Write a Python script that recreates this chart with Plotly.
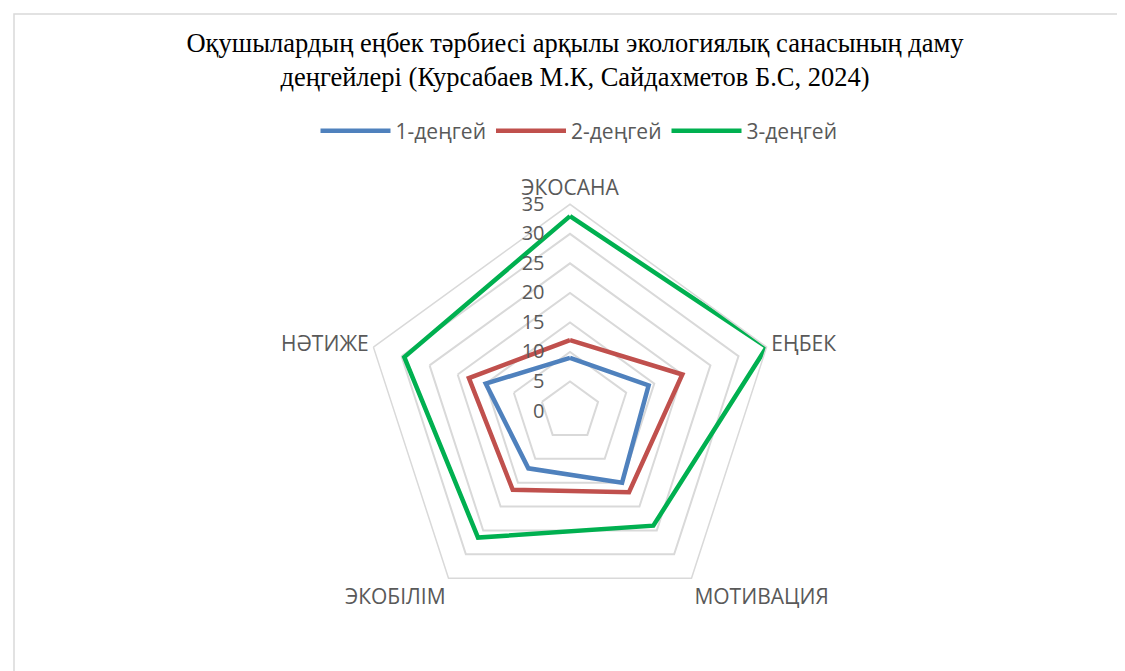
import plotly.graph_objects as go

categories = ["ЭКОСАНА", "ЕҢБЕК", "МОТИВАЦИЯ", "ЭКОБІЛІМ", "НӘТИЖЕ"]
series_names = ["1-деңгей", "2-деңгей", "3-деңгей"]
level1 = [9, 14, 15, 12, 15]
level2 = [12, 20, 17, 16.5, 18]
level3 = [33, 35, 24, 26.5, 29.5]
radial_ticks = [0, 5, 10, 15, 20, 25, 30, 35]
colors = ["#4F81BD", "#C0504D", "#00B050"]
title_text = ("Оқушылардың еңбек тәрбиесі арқылы экологиялық санасының даму<br>"
              "деңгейлері (Курсабаев М.К, Сайдахметов Б.С, 2024)")

W, H = 1125, 671
cx, cy, R = 562, 403, 206.7

fig = go.Figure()
for name, vals, col in zip(series_names, [level1, level2, level3], colors):
    fig.add_trace(go.Scatterpolar(
        r=vals + vals[:1], theta=categories + categories[:1],
        mode="lines", name=name,
        line=dict(color=col, width=4.5),
    ))

fig.update_layout(
    width=W, height=H,
    margin=dict(l=0, r=0, t=0, b=0),
    paper_bgcolor="white", plot_bgcolor="white",
    font=dict(family="Open Sans, Noto Sans, sans-serif", color="#595959", size=20),
    title=dict(text=title_text, x=567 / W, xanchor="center", y=1 - 44 / H, yanchor="middle",
               font=dict(family="Liberation Serif, Times New Roman, serif", size=26.5, color="#000000")),
    legend=dict(orientation="h", x=571 / W, xanchor="center", y=1 - 123 / H, yanchor="middle",
                font=dict(size=21, color="#595959"), itemwidth=70, bgcolor="rgba(0,0,0,0)"),
    polar=dict(
        domain=dict(x=[(cx - R) / W, (cx + R) / W], y=[(H - cy - R) / H, (H - cy + R) / H]),
        gridshape="linear",
        bgcolor="white",
        angularaxis=dict(rotation=90, direction="clockwise", showgrid=False, showline=True,
                         linecolor="#D9D9D9", linewidth=1.5, ticks="",
                         tickfont=dict(size=21, color="#595959")),
        radialaxis=dict(range=[0, 35], tickvals=radial_ticks, angle=90, tickangle=90,
                        side="counterclockwise",
                        showline=False, showgrid=True, gridcolor="#D9D9D9", gridwidth=1.5,
                        ticks="outside", ticklen=18, tickcolor="rgba(0,0,0,0)",
                        tickfont=dict(size=20, color="#595959")),
    ),
    shapes=[dict(type="rect", xref="paper", yref="paper",
                 x0=6 / W, x1=1120 / W, y0=(H - 669) / H, y1=(H - 6) / H,
                 line=dict(color="#D9D9D9", width=1.5))],
)

fig.write_html("out.html")
